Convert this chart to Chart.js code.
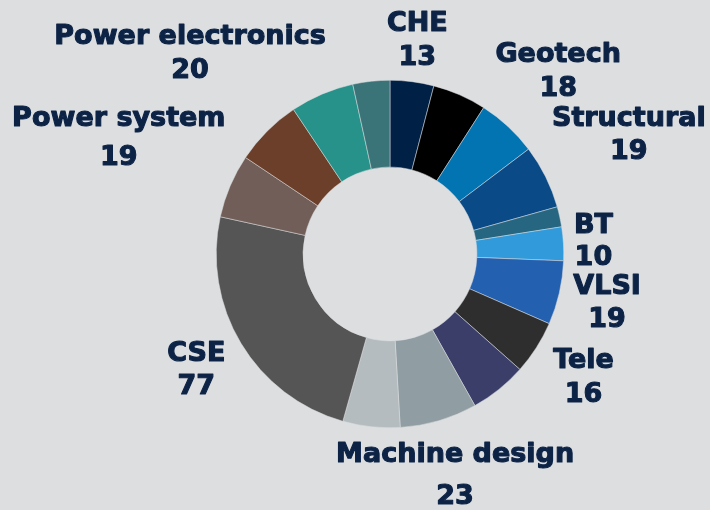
<!DOCTYPE html>
<html>
<head>
<meta charset="utf-8">
<script src="https://cdn.jsdelivr.net/npm/chart.js@4"></script>
<style>
  html, body { margin: 0; padding: 0; background: #dcdee0; }
  #wrap { width: 710px; height: 510px; }
</style>
</head>
<body>
<div id="wrap"><canvas id="chart"></canvas></div>
<script>
// slices clockwise from 12 o'clock; '' = slice without a label in the original
const departments = ['CHE', '', 'Geotech', 'Structural', '', 'BT', 'VLSI', 'Tele', '', 'Machine design', '', 'CSE', 'Power system', 'Power electronics', '', ''];
const counts = [13, 16, 18, 19, 6, 10, 19, 16, 17, 23, 17, 77, 19, 20, 19, 11];

const sliceColors = [
  '#002046', '#000000', '#0274b2', '#0a4a87', '#276680', '#309adb', '#2460b0', '#2e2e2e',
  '#3a3e69', '#909da2', '#b4bcbf', '#555555', '#725e58', '#6c3f2a', '#279289', '#3a7479'
];

// label placement: [distance beyond the ring, gap between the two lines]
const labelPlace = {
  'CHE': [41, 33.5],
  'Geotech': [74, 33.5],
  'Structural': [93, 33.5],
  'BT': [30, 32.5],
  'VLSI': [49, 33],
  'Tele': [56, 33.5],
  'Machine design': [58, 42],
  'CSE': [52, 33],
  'Power system': [121, 39.5],
  'Power electronics': [109, 33.5]
};

const outsideLabels = {
  id: 'outsideLabels',
  afterDatasetsDraw(chart, args, opts) {
    const ctx = chart.ctx;
    const meta = chart.getDatasetMeta(0);
    ctx.save();
    ctx.font = opts.font;
    ctx.fillStyle = opts.color;
    ctx.strokeStyle = opts.color;
    ctx.lineWidth = 1.1;
    ctx.lineJoin = 'round';
    ctx.textAlign = 'center';
    ctx.textBaseline = 'middle';
    meta.data.forEach((arc, i) => {
      const name = chart.data.labels[i];
      if (!name) return;
      const { x, y, startAngle, endAngle, outerRadius } =
        arc.getProps(['x', 'y', 'startAngle', 'endAngle', 'outerRadius'], true);
      const mid = (startAngle + endAngle) / 2;
      const [gap, lineGap] = opts.place[name];
      const r = outerRadius + gap;
      const cx = x + Math.cos(mid) * r;
      const cy = y + Math.sin(mid) * r;
      const value = String(chart.data.datasets[0].data[i]);
      // slight stroke to get closer to the heavy face of the original
      ctx.strokeText(name, cx, cy - lineGap / 2);
      ctx.fillText(name, cx, cy - lineGap / 2);
      ctx.strokeText(value, cx, cy + lineGap / 2);
      ctx.fillText(value, cx, cy + lineGap / 2);
    });
    ctx.restore();
  }
};

new Chart(document.getElementById('chart'), {
  type: 'doughnut',
  data: {
    labels: departments,
    datasets: [{
      data: counts,
      backgroundColor: sliceColors,
      borderColor: '#dcdee0',
      borderWidth: 0.5
    }]
  },
  options: {
    responsive: true,
    maintainAspectRatio: false,
    animation: false,
    cutout: '50%',
    layout: {
      padding: { left: 216, right: 146, top: 80, bottom: 82 }
    },
    plugins: {
      legend: { display: false },
      tooltip: { enabled: false },
      outsideLabels: {
        font: 'bold 27px "DejaVu Sans"',
        color: '#0c2346',
        place: labelPlace
      }
    }
  },
  plugins: [outsideLabels]
});
</script>
</body>
</html>
